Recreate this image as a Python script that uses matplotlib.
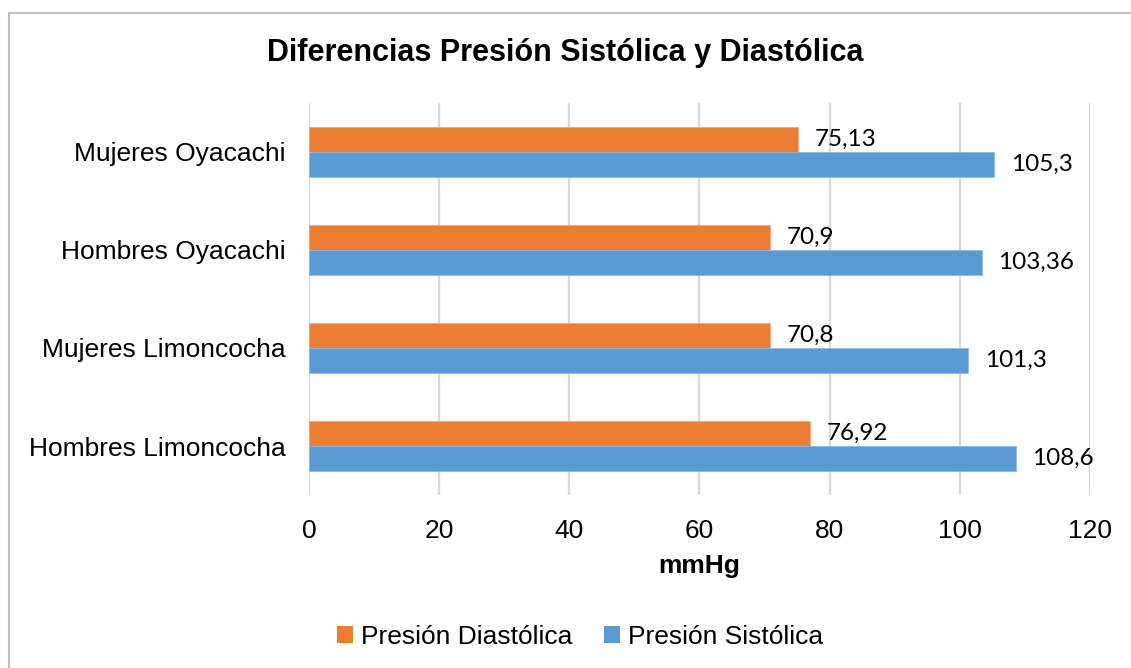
import matplotlib.pyplot as plt
from matplotlib.lines import Line2D
from matplotlib.patches import Patch
import numpy as np

categories = ["Mujeres Oyacachi", "Hombres Oyacachi", "Mujeres Limoncocha", "Hombres Limoncocha"]
diastolica = [75.13, 70.9, 70.8, 76.92]
sistolica = [105.3, 103.36, 101.3, 108.6]
diastolica_labels = ["75,13", "70,9", "70,8", "76,92"]
sistolica_labels = ["105,3", "103,36", "101,3", "108,6"]
xticks = [0, 20, 40, 60, 80, 100, 120]

ORANGE = "#ED7D31"
BLUE = "#5B9BD5"
GRID = "#D9D9D9"

plt.rcParams["font.family"] = ["Liberation Sans", "DejaVu Sans"]

W, H = 1131, 668
fig = plt.figure(figsize=(W / 100, H / 100), dpi=100)
ax = fig.add_axes([309 / W, 1 - 495 / H, (1090 - 309) / W, (495 - 103) / H])

n = len(categories)
y = np.arange(n)
h = 0.26
ax.barh(y - h / 2, diastolica, height=h, color=ORANGE, edgecolor="#F4A676", linewidth=0.6, zorder=3)
ax.barh(y + h / 2, sistolica, height=h, color=BLUE, edgecolor="#8DBBE3", linewidth=0.6, zorder=3)

for yi, v, lab in zip(y, diastolica, diastolica_labels):
    ax.annotate(lab, (v, yi - h / 2), xytext=(12, 0), textcoords="offset points",
                va="center", ha="left", fontsize=17.5, family="Lato", color="black")
for yi, v, lab in zip(y, sistolica, sistolica_labels):
    ax.annotate(lab, (v, yi + h / 2), xytext=(12, 0), textcoords="offset points",
                va="center", ha="left", fontsize=17.5, family="Lato", color="black")

ax.set_xlim(0, 120)
ax.set_ylim(n - 0.5, -0.5)
ax.set_xticks(xticks)
ax.set_xticklabels([str(t) for t in xticks])
ax.set_yticks(y)
ax.set_yticklabels(categories)
ax.tick_params(axis="both", length=0, labelsize=19, pad=17)
ax.grid(axis="x", color=GRID, linewidth=1.6, zorder=0)
ax.set_axisbelow(True)
for s in ax.spines.values():
    s.set_visible(False)

ax.set_xlabel("mmHg", fontsize=19, fontweight="bold", labelpad=8)

fig.text(0.5, 1 - 53 / H, "Diferencias Presión Sistólica y Diastólica",
         ha="center", va="center", fontsize=22, fontweight="bold")

handles = [Patch(facecolor=ORANGE, edgecolor="none"), Patch(facecolor=BLUE, edgecolor="none")]
fig.legend(handles, ["Presión Diastólica", "Presión Sistólica"], loc="center",
           bbox_to_anchor=(580 / W, 1 - 637 / H), ncol=2, frameon=False, fontsize=19,
           handlelength=0.6, handleheight=0.6, handletextpad=0.3, columnspacing=1.2)

# outer chart frame (left and top edges)
fig.add_artist(Line2D([8.5 / W, 8.5 / W], [0, 1 - 12.5 / H], transform=fig.transFigure,
                      color="#BFBFBF", linewidth=1.5))
fig.add_artist(Line2D([8.5 / W, 1], [1 - 12.5 / H, 1 - 12.5 / H], transform=fig.transFigure,
                      color="#BFBFBF", linewidth=1.5))

fig.savefig("out.png", dpi=100, facecolor="white")
